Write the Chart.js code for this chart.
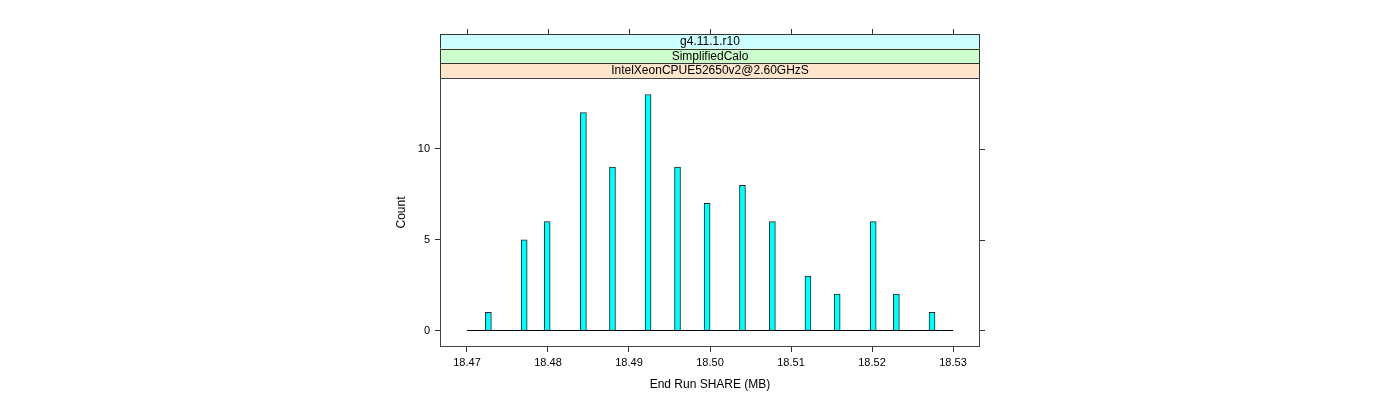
<!DOCTYPE html>
<html><head><meta charset="utf-8">
<script src="https://cdn.jsdelivr.net/npm/chart.js@4"></script>
<style>html,body{margin:0;padding:0;background:#fff}#wrap{width:1400px;height:400px}</style>
</head><body><div id="wrap"><canvas id="c" width="1400" height="400"></canvas></div>
<script>
const binCenters = [18.47264, 18.47706, 18.47990, 18.48437, 18.48796, 18.49235, 18.49599, 18.49964, 18.50401, 18.50770, 18.51209, 18.51570, 18.52015, 18.52301, 18.52741];
const counts = [1, 5, 6, 12, 9, 13, 9, 7, 8, 6, 3, 2, 6, 2, 1];
const xTicks = [18.47, 18.48, 18.49, 18.50, 18.51, 18.52, 18.53];
const yTicks = [0, 5, 10];
const strips = ["g4.11.1.r10", "SimplifiedCalo", "IntelXeonCPUE52650v2@2.60GHzS"];
const stripColors = ["#ccffff", "#ccffcc", "#ffe5cc"];
const xTitle = "End Run SHARE (MB)";
const yTitle = "Count";

const FONT = "'Liberation Sans', Arial, sans-serif";
const overlay = {
  id: 'overlay',
  afterDraw(chart) {
    const ctx = chart.ctx, a = chart.chartArea;
    const xs = chart.scales.x, ys = chart.scales.y;
    ctx.save();
    const sh = 14.67;
    for (let i = 0; i < strips.length; i++) {
      const top = a.top - sh * (strips.length - i);
      ctx.fillStyle = stripColors[i];
      ctx.fillRect(a.left, top, a.right - a.left, sh);
      ctx.strokeStyle = '#333';
      ctx.lineWidth = 1;
      ctx.strokeRect(Math.round(a.left) + 0.5, Math.round(top) + 0.5, Math.round(a.right - a.left) - 1, Math.round(sh));
      ctx.fillStyle = '#000';
      ctx.font = '12px ' + FONT;
      ctx.textAlign = 'center';
      ctx.textBaseline = 'middle';
      ctx.fillText(strips[i], (a.left + a.right) / 2, top + sh / 2 + 0.5);
    }
    const stripTop = a.top - sh * strips.length;
    ctx.strokeStyle = '#333';
    ctx.lineWidth = 1;
    ctx.beginPath();
    xTicks.forEach(v => {
      const px = Math.round(xs.getPixelForValue(v)) + 0.5;
      ctx.moveTo(px, Math.round(stripTop));
      ctx.lineTo(px, Math.round(stripTop) - 5);
    });
    yTicks.forEach(v => {
      const py = Math.round(ys.getPixelForValue(v)) + 0.5;
      ctx.moveTo(Math.round(a.right), py);
      ctx.lineTo(Math.round(a.right) + 5, py);
    });
    ctx.stroke();
    ctx.strokeStyle = '#444';
    ctx.strokeRect(Math.round(a.left) + 0.5, Math.round(a.top) + 0.5, Math.round(a.right - a.left) - 1, Math.round(a.bottom - a.top) - 1);
    ctx.restore();
  }
};

new Chart(document.getElementById('c'), {
  data: {
    datasets: [
      {
        type: 'line',
        data: [{x: xTicks[0], y: 0}, {x: xTicks[xTicks.length - 1], y: 0}],
        borderColor: '#000', borderWidth: 1, pointRadius: 0, order: 0
      },
      {
        type: 'bar',
        data: binCenters.map((x, i) => ({x: x, y: counts[i]})),
        backgroundColor: '#00ffff', borderColor: '#222', borderWidth: 1,
        borderSkipped: 'start', barThickness: 6, order: 1
      }
    ]
  },
  options: {
    responsive: false, animation: false, devicePixelRatio: 1,
    layout: {padding: {left: 394, right: 420, top: 78, bottom: 8}},
    plugins: {legend: {display: false}, tooltip: {enabled: false}},
    scales: {
      x: {
        type: 'linear', min: 18.466667, max: 18.533333, offset: false,
        afterBuildTicks: s => { s.ticks = xTicks.map(v => ({value: v})); },
        afterFit: s => { s.height = 45; },
        ticks: {callback: v => v.toFixed(2), color: '#000', font: {family: FONT, size: 11}, padding: 4, maxRotation: 0, autoSkip: false},
        grid: {display: true, offset: false, drawOnChartArea: false, drawTicks: true, tickLength: 5, color: '#333'},
        border: {display: false},
        title: {display: true, text: xTitle, color: '#000', font: {family: FONT, size: 12}, padding: {top: 0, bottom: 0}}
      },
      y: {
        type: 'linear', min: -0.91, max: 13.91,
        afterBuildTicks: s => { s.ticks = yTicks.map(v => ({value: v})); },
        afterFit: s => { s.width = 46; },
        ticks: {color: '#000', font: {family: FONT, size: 11}, padding: 5},
        grid: {display: true, offset: false, drawOnChartArea: false, drawTicks: true, tickLength: 5, color: '#333'},
        border: {display: false},
        title: {display: true, text: yTitle, color: '#000', font: {family: FONT, size: 12}, padding: {top: 0, bottom: 0}}
      }
    }
  },
  plugins: [overlay]
});
</script></body></html>
